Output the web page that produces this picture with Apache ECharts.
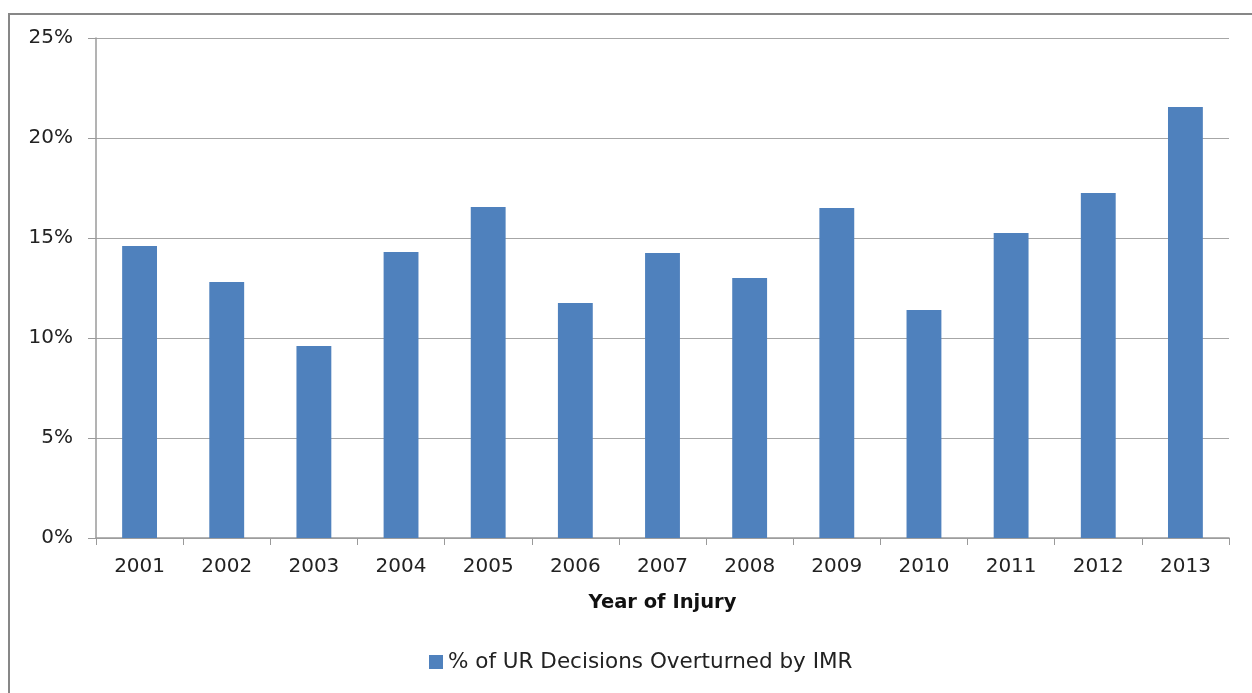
<!DOCTYPE html>
<html><head><meta charset="utf-8">
<script src="https://cdn.jsdelivr.net/npm/echarts@6/dist/echarts.min.js"></script>
<style>html,body{margin:0;padding:0;background:#fff;}#c{width:1252px;height:693px;}</style>
</head><body><div id="c"></div>
<script>
const categories = ['2001','2002','2003','2004','2005','2006','2007','2008','2009','2010','2011','2012','2013'];
const overturnedPct = [14.6, 12.8, 9.6, 14.3, 16.55, 11.75, 14.25, 13.0, 16.5, 11.4, 15.25, 17.25, 21.55];
const seriesName = '% of UR Decisions Overturned by IMR';
const xAxisTitle = 'Year of Injury';

const chart = echarts.init(document.getElementById('c'));
const font = 'DejaVu Sans, sans-serif';
chart.setOption({
  animation: false,
  graphic: [{
    type: 'polyline',
    shape: { points: [[9, 700], [9, 14], [1260, 14]] },
    style: { stroke: '#878787', lineWidth: 2, fill: null }
  }],
  grid: { left: 96, right: 23, top: 38, bottom: 155, containLabel: false },
  legend: {
    bottom: 15, left: 424,
    itemWidth: 14, itemHeight: 14, icon: 'rect', itemGap: 6,
    textStyle: { fontFamily: font, fontSize: 21.5, color: '#222' },
    data: [seriesName]
  },
  xAxis: {
    type: 'category', data: categories,
    name: xAxisTitle, nameLocation: 'middle', nameGap: 55,
    nameTextStyle: { fontFamily: font, fontSize: 19.5, fontWeight: 'bold', color: '#111' },
    axisLine: { lineStyle: { color: '#9a9a9a', width: 1.5 } },
    axisTick: { show: true, length: 7, alignWithLabel: false, lineStyle: { color: '#9a9a9a' } },
    axisLabel: { fontFamily: font, fontSize: 20, color: '#222', margin: 19 }
  },
  yAxis: {
    type: 'value', min: 0, max: 25, interval: 5,
    axisLine: { show: true, lineStyle: { color: '#9a9a9a', width: 1.5 } },
    axisTick: { show: true, length: 8, lineStyle: { color: '#9a9a9a' } },
    splitLine: { lineStyle: { color: '#a6a6a6', width: 1.2 } },
    axisLabel: { fontFamily: font, fontSize: 20, color: '#222', margin: 23, formatter: '{value}%' }
  },
  series: [{
    name: seriesName, type: 'bar', data: overturnedPct,
    barWidth: '40%',
    itemStyle: { color: '#4f81bd' }
  }]
});
</script></body></html>
